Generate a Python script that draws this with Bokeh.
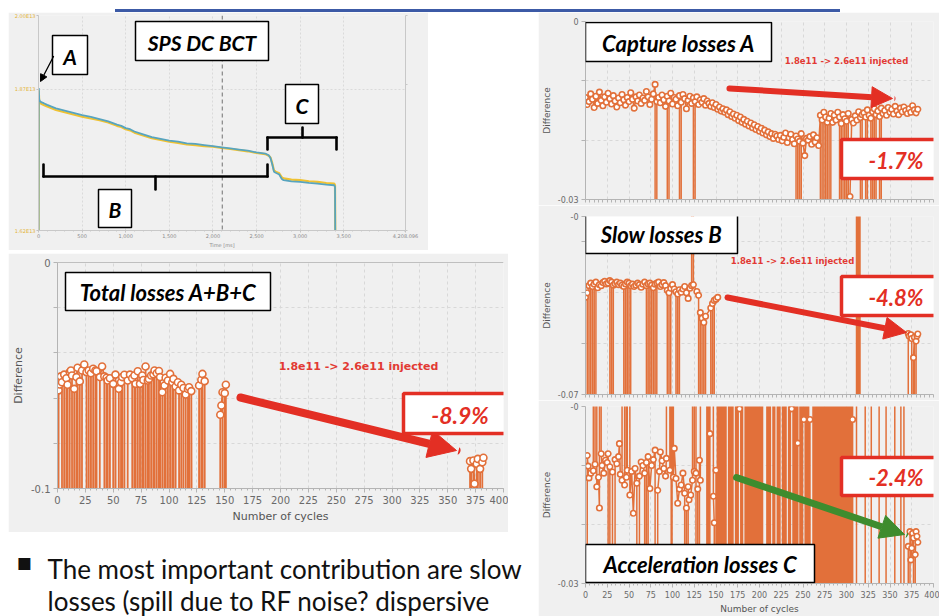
import math
import numpy as np
from bokeh.plotting import figure
from bokeh.layouts import row, column
from bokeh.models import (Spacer, Div, Label, Arrow, NormalHead, FixedTicker, CustomJSTickFormatter,
                          Span, LinearAxis, Range1d, BoxAnnotation)
from bokeh.embed import file_html
from bokeh.resources import INLINE

# ---------------- data ----------------
# SPS DC BCT (time in ms, intensity in protons)
bct_time = [0, 3, 8, 15, 30, 60, 100, 150, 200, 300, 400, 500, 600, 700, 800, 900, 950, 1000, 1050, 1100,
            1200, 1300, 1400, 1500, 1600, 1700, 1800, 1900, 2000, 2100, 2200, 2300, 2400, 2500, 2600, 2640,
            2660, 2680, 2700, 2720, 2760, 2790, 2810, 2900, 3000, 3100, 3200, 3300, 3390, 3400, 3405]
bct_blue = [1.55e13, 1.872e13, 1.852e13, 1.849e13, 1.847e13, 1.845e13, 1.842e13, 1.839e13, 1.836e13, 1.832e13,
            1.828e13, 1.824e13, 1.821e13, 1.817e13, 1.813e13, 1.807e13, 1.805e13, 1.801e13, 1.799e13, 1.795e13,
            1.790e13, 1.785e13, 1.782e13, 1.779e13, 1.777e13, 1.774e13, 1.773e13, 1.771e13, 1.769e13, 1.767e13,
            1.765e13, 1.763e13, 1.761e13, 1.758e13, 1.756e13, 1.753e13, 1.748e13, 1.737e13, 1.724e13, 1.722e13,
            1.719e13, 1.711e13, 1.709e13, 1.707e13, 1.706e13, 1.704e13, 1.703e13, 1.701e13, 1.700e13, 1.697e13, 1.55e13]
bct_yellow = [1.55e13, 1.868e13, 1.849e13, 1.846e13, 1.844e13, 1.842e13, 1.839e13, 1.836e13, 1.833e13, 1.829e13,
              1.825e13, 1.821e13, 1.818e13, 1.815e13, 1.811e13, 1.805e13, 1.803e13, 1.799e13, 1.797e13, 1.793e13,
              1.788e13, 1.783e13, 1.780e13, 1.777e13, 1.775e13, 1.772e13, 1.771e13, 1.769e13, 1.768e13, 1.766e13,
              1.764e13, 1.762e13, 1.760e13, 1.757e13, 1.755e13, 1.752e13, 1.749e13, 1.739e13, 1.726e13, 1.724e13,
              1.721e13, 1.714e13, 1.712e13, 1.710e13, 1.709e13, 1.707e13, 1.706e13, 1.704e13, 1.703e13, 1.700e13, 1.55e13]
bct_time_ticks = [0, 500, 1000, 1500, 2000, 2500, 3000, 3500, 4208.096]
bct_int_ticks = [1.62e13, 1.87e13, 2.00e13]
bct_mom_values = [225, 213, 187.357]
bct_mom_ticks = ["225", "213", "187.357"]

OFF_LOW, OFF_HIGH = -1.0, 1.0   # off-scale readings (drawn as spikes)

# Total losses A+B+C
total_cycles = [1, 2, 3, 4, 6, 8, 9, 11, 12, 13, 15, 17, 18, 20, 22, 24, 26, 28, 30, 32, 34, 35, 38, 40, 42, 44,
                45, 47, 50, 52, 55, 57, 58, 60, 63, 65, 67, 69, 70, 72, 74, 76, 77, 79, 81, 82, 84, 86, 87, 89,
                91, 92, 94, 96, 97, 99, 101, 103, 104, 106, 108, 109, 111, 113, 115, 117, 118, 120, 127, 129,
                130, 132, 146, 147, 148, 150, 151, 370, 371, 373, 374, 376, 377, 379, 381, 382]
total_diff = [-0.0566, -0.0540, -0.0504, -0.0530, -0.0496, -0.0512, -0.0541, -0.0485, -0.0478, -0.0500,
              -0.0559, -0.0507, -0.0466, -0.0526, -0.0478, -0.0451, -0.0485, -0.0478, -0.0490, -0.0470,
              -0.0478, -0.0481, -0.0507, -0.0460, -0.0504, -0.0510, -0.0522, -0.0512, -0.0537, -0.0496,
              -0.0559, -0.0530, -0.0507, -0.0497, -0.0522, -0.0496, -0.0512, -0.0500, -0.0537, -0.0481,
              -0.0537, -0.0500, -0.0520, -0.0460, -0.0522, -0.0515, -0.0500, -0.0495, -0.0478, -0.0490,
              -0.0480, -0.0507, -0.0574, -0.0544, -0.0510, -0.0522, -0.0493, -0.0530, -0.0515, -0.0549,
              -0.0530, -0.0566, -0.0541, -0.0555, -0.0584, -0.0560, -0.0552, -0.0569, -0.0544, -0.0519,
              -0.0493, -0.0525, -0.0674, -0.0633, -0.0574, -0.0578, -0.0541, -0.0879, -0.0913, -0.0876,
              -0.0979, -0.0891, -0.0869, -0.0913, -0.0884, -0.0864]
total_low = [0, 5, 7, 10, 14, 16, 19, 21, 27, 29, 31, 33, 36, 43, 46, 48, 49, 51, 54, 56, 59, 61, 62, 68, 71,
             73, 75, 78, 80, 83, 85, 88, 90, 93, 95, 98, 100, 102, 105, 110, 112, 116, 119, 126, 128, 131, 133,
             145, 149, 152, 369, 372, 375, 378, 380]

# Capture losses A (one reading every 2 cycles)
cap_cycles = list(range(0, 383, 2))
cap_diff = [-0.0128, -0.0140, -0.0135, -0.0122, -0.0131, -0.0145, -0.0126, -0.0138, -0.0119, -0.0133, -0.0142, -0.0127, -0.0136, -0.0121, -0.0130, -0.0139,
            -0.0125, -0.0134, -0.0144, -0.0129, -0.0137, -0.0123, -0.0132, -0.0141, -0.0128, -0.0135, -0.0120, -0.0131, -0.0146, -0.0127, -0.0134, -0.0124,
            -0.0138, -0.0129, -0.0133, -0.0118, -0.0127, -0.0140, -0.0131, -0.0122, -0.0106, -0.0135, -0.0128, -0.0137, -0.0124, -0.0132, -0.0143, -0.0126,
            -0.0134, -0.0121, -0.0139, -0.0128, -0.0131, -0.0142, -0.0125, -0.0136, -0.0123, -0.0130, -0.0147, -0.0133, -0.0126, -0.0138, -0.0129, -0.0135,
            -0.0127, -0.0140, -0.0132, -0.0136, -0.0130, -0.0141, -0.0134, -0.0138, -0.0143, -0.0137, -0.0145, -0.0140, -0.0148, -0.0144, -0.0151, -0.0147,
            -0.0153, -0.0149, -0.0157, -0.0152, -0.0160, -0.0156, -0.0163, -0.0158, -0.0167, -0.0161, -0.0170, -0.0165, -0.0173, -0.0168, -0.0176, -0.0171,
            -0.0179, -0.0174, -0.0182, -0.0177, -0.0185, -0.0180, -0.0188, -0.0183, -0.0191, -0.0186, -0.0194, -0.0189, -0.0197, -0.0190, -0.0193, -0.0199,
            -0.0192, -0.0201, -0.0195, -0.0188, -0.0204, -0.0196, -0.0190, -0.0199, -0.0206, -0.0193, -0.0198, -0.0202, -0.0189, -0.0205, -0.0226, -0.0197,
            -0.0200, -0.0194, -0.0207, -0.0191, -0.0203, -0.0196, -0.0209, -0.0158, -0.0166, -0.0153, -0.0161, -0.0170, -0.0163, -0.0155, -0.0170, -0.0158,
            -0.0166, -0.0153, -0.0161, -0.0172, -0.0157, -0.0164, -0.0168, -0.0155, -0.0295, -0.0165, -0.0171, -0.0159, -0.0166, -0.0152, -0.0162, -0.0157,
            -0.0154, -0.0161, -0.0149, -0.0158, -0.0163, -0.0152, -0.0147, -0.0157, -0.0151, -0.0160, -0.0146, -0.0155, -0.0150, -0.0158, -0.0145, -0.0153,
            -0.0148, -0.0156, -0.0143, -0.0151, -0.0157, -0.0146, -0.0152, -0.0144, -0.0150, -0.0155, -0.0147, -0.0153, -0.0142, -0.0149, -0.0154, -0.0148]
cap_low = [81, 95, 109, 125, 243, 247, 271, 275, 277, 281, 293, 297, 299, 303, 317, 323, 329, 333, 339]

# Slow losses B
slow_cycles = list(range(0, 125, 2)) + [128, 130, 132, 134, 136, 138, 144, 146, 148, 150, 152,
                                        371, 372, 374, 375, 377, 378, 380, 381, 382]
slow_diff = [-0.0318, -0.0300, -0.0272, -0.0262, -0.0275, -0.0266, -0.0258, -0.0280, -0.0268, -0.0272,
             -0.0260, -0.0255, -0.0265, -0.0262, -0.0252, -0.0258, -0.0270, -0.0264, -0.0258, -0.0268,
             -0.0262, -0.0270, -0.0275, -0.0265, -0.0258, -0.0262, -0.0272, -0.0266, -0.0275, -0.0270,
             -0.0262, -0.0268, -0.0278, -0.0266, -0.0258, -0.0272, -0.0265, -0.0262, -0.0270, -0.0280,
             -0.0266, -0.0262, -0.0258, -0.0275, -0.0268, -0.0260, -0.0272, -0.0290, -0.0300, -0.0282,
             -0.0268, -0.0285, -0.0296, -0.0305, -0.0288, -0.0298, -0.0285, -0.0275, -0.0300, -0.0322,
             -0.0282, -0.0272, -0.0268,
             -0.0295, -0.0310, -0.0378, -0.0400, -0.0417, -0.0392, -0.0360, -0.0342, -0.0330, -0.0325, -0.0318,
             -0.0460, -0.0470, -0.0465, -0.0480, -0.0555, -0.0475, -0.0490, -0.0470, -0.0462]
slow_low = [3, 5, 9, 11, 29, 31, 45, 47, 49, 51, 71, 73, 75, 79, 81, 95, 97, 105, 107, 131, 133, 135, 137,
            145, 147, 312, 314, 316, 370, 376, 379]
slow_high = [123, 311, 313, 315]
slow_gaps = [200]

# Acceleration losses C
acc_cycles = [2, 3, 4, 6, 9, 11, 13, 15, 16, 18, 19, 21, 23, 25, 26, 28, 31, 34, 36, 38, 39, 40, 42, 45, 47,
              48, 51, 53, 55, 57, 59, 62, 64, 66, 68, 70, 72, 74, 76, 78, 80, 83, 85, 86, 88, 90, 92, 93, 97,
              101, 102, 104, 106, 108, 110, 112, 114, 116, 118, 119, 121, 123, 125, 127, 129, 131, 132, 143,
              147, 148, 150, 177, 237, 244, 251, 258, 307,
              371, 373, 374, 375, 376, 377, 379, 380, 381, 382]
acc_diff = [-0.0083, -0.0101, -0.0121, -0.0113, -0.0109, -0.0098, -0.0136, -0.0120, -0.0172, -0.0080,
            -0.0100, -0.0113, -0.0091, -0.0095, -0.0080, -0.0102, -0.0111, -0.0090, -0.0097, -0.0085,
            -0.0063, -0.0115, -0.0125, -0.0133, -0.0120, -0.0108, -0.0150, -0.0110, -0.0181, -0.0105,
            -0.0130, -0.0118, -0.0094, -0.0100, -0.0113, -0.0095, -0.0085, -0.0139, -0.0100, -0.0090,
            -0.0074, -0.0142, -0.0110, -0.0077, -0.0092, -0.0105, -0.0118, -0.0088, -0.0108, -0.0120,
            -0.0071, -0.0122, -0.0164, -0.0140, -0.0133, -0.0113, -0.0147, -0.0172, -0.0136, -0.0158,
            -0.0150, -0.0125, -0.0110, -0.0113, -0.0140, -0.0091, -0.0125, -0.0046, -0.0152, -0.0197,
            -0.0108, -0.0004, -0.0004, -0.0062, -0.0022, -0.0022, -0.0022,
            -0.0237, -0.0212, -0.0260, -0.0240, -0.0215, -0.0223, -0.0251, -0.0212, -0.0220, -0.0230]
acc_high = [10, 12, 17, 44, 46, 50, 95, 98, 100, 124, 126, 139, 141, 144,
            152, 154, 156, 158, 160, 162, 164, 166, 168, 170, 172, 174, 176, 178, 180, 184, 186, 188, 190,
            192, 194, 196, 198, 200, 202, 204, 208, 210, 212, 216, 218, 220, 222, 224, 226, 228, 230, 234,
            236, 238, 240, 242, 246, 248, 250, 252, 254, 256, 262, 264, 266, 268, 270, 272, 274, 276, 278,
            280, 282, 284, 286, 288, 290, 292, 294, 296, 298, 300, 302, 304, 306,
            312, 321, 329, 337, 346, 355, 363]
acc_low = [0, 1, 27, 30, 33, 60, 61, 69, 71, 81, 82, 99, 115, 117, 128, 130, 140, 142, 149,
           151, 153, 155, 157, 159, 161, 165, 167, 169, 173, 175, 179, 181, 183, 185, 187, 189, 191, 193,
           195, 197, 199, 201, 203, 209, 211, 213, 215, 217, 221, 223, 227, 229, 231, 233, 235, 239, 241,
           243, 247, 249, 253, 255, 257, 259, 261, 263, 265, 267, 269, 271, 273, 275, 277, 279, 281, 283,
           285, 287, 289, 291, 293, 295, 297, 299, 301, 303, 305,
           311, 322, 328, 338, 345, 356, 362, 369, 372, 378]

cycle_ticks = [0, 25, 50, 75, 100, 125, 150, 175, 200, 225, 250, 275, 300, 325, 350, 375, 400]
cycle_minor = list(range(0, 401, 5))
injected_text = "1.8e11 -> 2.6e11 injected"

# ---------------- styles ----------------
PANEL = "#f0f0f0"
ORANGE = "#e2703a"
RED = "#e32f24"
GREEN = "#3e8c2e"
AX = "#b4b4b4"
LAB = "#6a6a6a"
TITLE_FONT = "Lato"


def merge(cyc, val, low=(), high=(), gaps=()):
    pts = list(zip(cyc, val)) + [(c, OFF_LOW) for c in low] + [(c, OFF_HIGH) for c in high] \
        + [(c, float("nan")) for c in gaps]
    pts.sort(key=lambda t: t[0])
    return np.array([p[0] for p in pts], dtype=float), np.array([p[1] for p in pts], dtype=float)


def box(p, fr, x0, x1, y0, y1, color="black", width=1.5):
    fl, fb = fr
    p.add_layout(BoxAnnotation(left=x0 - fl, right=x1 - fl, top=fb - y0, bottom=fb - y1,
                               left_units="screen", right_units="screen", top_units="screen",
                               bottom_units="screen", fill_color="white", fill_alpha=1.0,
                               line_color=color, line_alpha=1.0, line_width=width))


def label(p, fr, x, y, text, size, color="black", font=TITLE_FONT, style="bold italic",
          align="center", baseline="middle", angle=0.0):
    fl, fb = fr
    p.add_layout(Label(x=x - fl, y=fb - y, x_units="screen", y_units="screen", text=text,
                       text_font=font, text_font_size=size, text_font_style=style, text_color=color,
                       text_align=align, text_baseline=baseline, angle=angle))


def boxed(p, fr, x0, x1, y0, y1, text, size, color="black", bcolor="black", bw=1.5):
    box(p, fr, x0, x1, y0, y1, bcolor, bw)
    label(p, fr, (x0 + x1) / 2, (y0 + y1) / 2 + 1, text, size, color)


def arrow(p, fr, x0, y0, x1, y1, color, width, head):
    fl, fb = fr
    end = NormalHead(size=head, fill_color=color, line_color=color, line_width=1) if head else None
    p.add_layout(Arrow(end=end, x_start=x0 - fl, y_start=fb - y0, x_end=x1 - fl, y_end=fb - y1,
                       start_units="screen", end_units="screen", line_color=color, line_width=width,
                       line_cap="round"))


def ytick_formatter(top, bot, lo):
    return CustomJSTickFormatter(args=dict(top=top, bot=bot, lo=lo), code="""
        if (Math.abs(tick) < 1e-9) return top;
        if (Math.abs(tick - lo) < 1e-9) return bot;
        return "";
    """)


def diff_fig(w, h, borders, y_lo, yticks, top_lab, bot_lab, xlabels, fs_tick, fs_lab, xtitle):
    l, r, t, b = borders
    p = figure(width=w, height=h, x_range=Range1d(0, 400), y_range=Range1d(y_lo, 0),
               output_backend="svg", toolbar_location=None,
               min_border_left=l, min_border_right=r, min_border_top=t, min_border_bottom=b)
    p.background_fill_color = PANEL
    p.border_fill_color = PANEL
    p.outline_line_color = None
    xa = p.xaxis[0]
    if xlabels:
        xa.ticker = FixedTicker(ticks=cycle_ticks, minor_ticks=cycle_minor)
    else:
        xa.ticker = FixedTicker(ticks=[], minor_ticks=cycle_minor)
    ya = p.yaxis[0]
    inner = [v for v in yticks if v not in (0.0, y_lo)]
    ya.ticker = FixedTicker(ticks=[y_lo, 0.0], minor_ticks=inner)
    ya.formatter = ytick_formatter(top_lab, bot_lab, y_lo)
    for ax in (xa, ya):
        ax.axis_line_color = AX
        ax.major_tick_line_color = AX
        ax.minor_tick_line_color = AX
        ax.major_tick_out = 4
        ax.major_tick_in = 0
        ax.minor_tick_out = 2
        ax.minor_tick_in = 0
        ax.major_label_text_color = LAB
        ax.major_label_text_font = "DejaVu Sans"
        ax.major_label_text_font_size = fs_tick
        ax.major_label_standoff = 3
        ax.axis_label_text_color = "#555555"
        ax.axis_label_text_font = "DejaVu Sans"
        ax.axis_label_text_font_style = "normal"
        ax.axis_label_text_font_size = fs_lab
        ax.axis_label_standoff = 3
    ya.minor_tick_out = 4
    ya.axis_label = "Difference"
    if xlabels:
        xa.axis_label = xtitle
    else:
        xa.minor_tick_out = 3
        xa.major_label_standoff = 0
    p.xgrid.ticker = FixedTicker(ticks=cycle_ticks)
    p.ygrid.ticker = FixedTicker(ticks=yticks)
    p.grid.grid_line_color = "#d8d8d8"
    p.grid.grid_line_dash = "3 3"
    return p


def draw_series(p, cyc, val, low=(), high=(), gaps=(), size=6, lw=1.6):
    xs, ys = merge(cyc, val, low, high, gaps)
    p.line(xs, ys, line_color=ORANGE, line_width=lw)
    p.scatter(cyc, val, marker="circle", size=size, fill_color="white", line_color=ORANGE, line_width=1.6)


# ---------------- SPS DC BCT ----------------
p_bct = figure(width=420, height=238, x_range=Range1d(0, 4208.096), y_range=Range1d(1.62e13, 2.00e13),
               output_backend="svg", toolbar_location=None,
               min_border_left=30, min_border_right=23, min_border_top=3, min_border_bottom=17)
p_bct.background_fill_color = PANEL
p_bct.border_fill_color = PANEL
p_bct.outline_line_color = None
p_bct.extra_y_ranges = {"mom": Range1d(187.357, 225)}
bx = p_bct.xaxis[0]
bx.ticker = FixedTicker(ticks=bct_time_ticks, minor_ticks=list(range(0, 4201, 100)))
bx.formatter = CustomJSTickFormatter(code="""
    if (Math.abs(tick - 4208.096) < 1e-6) return "4,208.096";
    return tick.toLocaleString("en-US");
""")
bx.axis_label = "Time [ms]"
by = p_bct.yaxis[0]
by.ticker = FixedTicker(ticks=bct_int_ticks, minor_ticks=[])
by.formatter = CustomJSTickFormatter(code='return (tick / 1e13).toFixed(2) + "E13";')
rax = LinearAxis(y_range_name="mom", ticker=FixedTicker(ticks=[], minor_ticks=bct_mom_values))
rax.major_label_standoff = 0
p_bct.add_layout(rax, "right")
for ax, col in ((bx, "#8a8a8a"), (by, "#e3b43a"), (rax, "#e38a5a")):
    ax.axis_line_color = "#c8c8c8"
    ax.major_tick_line_color = "#c0c0c0"
    ax.minor_tick_line_color = "#c8c8c8"
    ax.major_tick_out = 2
    ax.major_tick_in = 0
    ax.minor_tick_out = 1
    ax.minor_tick_in = 0
    ax.major_label_text_color = col
    ax.axis_label_text_color = col
    ax.axis_label_text_font_style = "normal"
    ax.axis_label_text_font = "DejaVu Sans"
    ax.major_label_text_font = "DejaVu Sans"
    ax.axis_label_text_font_size = "5px"
    ax.major_label_text_font_size = "5px"
    ax.axis_label_standoff = 1
rax.minor_tick_out = 2
bx.major_label_standoff = 1
by.major_label_standoff = 1
p_bct.grid.grid_line_color = "#dadada"
p_bct.grid.grid_line_dash = "2 2"
p_bct.line(bct_time, bct_yellow, line_color="#f0c232", line_width=2.2)
p_bct.line(bct_time, bct_blue, line_color="#57a4bf", line_width=1.8)
p_bct.add_layout(Span(location=2107, dimension="height", line_color="#707070", line_dash="4 3", line_width=1))
FB = (38, 233)
for txt, py in zip(bct_mom_ticks, [18, 87, 230]):
    label(p_bct, FB, 408, py, txt, "5px", "#e38a5a", "DejaVu Sans", "normal", "left", "middle")
label(p_bct, FB, 423, 124, "Momentum [GeV]", "5px", "#e38a5a", "DejaVu Sans", "normal", "center", "middle",
      -math.pi / 2)
label(p_bct, FB, 13, 124, "DCT intensity", "5px", "#e3b43a", "DejaVu Sans", "normal", "center", "middle",
      math.pi / 2)
boxed(p_bct, FB, 135, 268, 24, 63, "SPS DC BCT", "21px")
boxed(p_bct, FB, 52, 87, 38, 77, "A", "21px")
boxed(p_bct, FB, 285, 318, 87, 126, "C", "21px")
boxed(p_bct, FB, 98, 131, 192, 230, "B", "21px")
arrow(p_bct, FB, 53, 59, 40, 84, "black", 1.3, 7)
for seg in [(267, 152, 267, 140), (267, 140, 336, 140), (336, 140, 336, 152), (302, 140, 302, 130),
            (43, 167, 43, 179), (43, 179, 267, 179), (267, 179, 267, 167), (155, 179, 155, 192)]:
    arrow(p_bct, FB, seg[0], seg[1], seg[2], seg[3], "black", 2.6, 0)

# ---------------- Total losses ----------------
p_total = diff_fig(500, 279, (46, 5, 9, 44), -0.1, [-0.1, -0.08, -0.06, -0.04, -0.02, 0.0], "0", "-0.1",
                   True, "10px", "11px", "Number of cycles")
p_total.add_layout(Span(location=0, dimension="width", line_color="#8c8c8c", line_width=1.2))
draw_series(p_total, total_cycles, total_diff, low=total_low, size=7, lw=1.8)
FT = (54, 488)
boxed(p_total, FT, 62, 267, 272, 310, "Total losses A+B+C", "22px")
label(p_total, FT, 355, 366, injected_text, "11px", "#e23a34", "DejaVu Sans", "bold")
arrow(p_total, FT, 237, 397, 453, 450, RED, 8, 28)
boxed(p_total, FT, 400, 513, 393, 433, "-8.9%", "23px", RED, RED, 3.5)

# ---------------- Capture losses A ----------------
p_cap = diff_fig(401, 193, (43, 6, 9, 6), -0.03, [-0.03, -0.02, -0.01, 0.0], "0", "-0.03",
                 False, "8px", "9px", "")
draw_series(p_cap, cap_cycles, cap_diff, low=cap_low, size=5.5, lw=1.5)
FC = (581, 199)
boxed(p_cap, FC, 581, 767, 22, 61, "Capture losses A", "22px")
label(p_cap, FC, 842, 60, injected_text, "8.5px", "#e23a34", "DejaVu Sans", "bold")
arrow(p_cap, FC, 725, 88, 888, 98, RED, 6, 21)
boxed(p_cap, FC, 837, 946, 139, 178, "-1.7%", "22px", RED, RED, 3.5)

# ---------------- Slow losses B ----------------
p_slow = diff_fig(401, 195, (43, 6, 11, 6), -0.07, [-0.07, -0.05, -0.03, -0.01, 0.0], "-0", "-0.07",
                  False, "8px", "9px", "")
draw_series(p_slow, slow_cycles, slow_diff, low=slow_low, high=slow_high, gaps=slow_gaps, size=5.5, lw=1.5)
FS = (581, 394)
boxed(p_slow, FS, 581, 733, 213, 253, "Slow losses B", "22px")
label(p_slow, FS, 788, 260, injected_text, "8.5px", "#e23a34", "DejaVu Sans", "bold")
arrow(p_slow, FS, 723, 297, 902, 332, RED, 6, 22)
boxed(p_slow, FS, 837, 946, 276, 315, "-4.8%", "22px", RED, RED, 3.5)

# ---------------- Acceleration losses C ----------------
p_acc = diff_fig(401, 216, (43, 6, 6, 32), -0.03, [-0.03, -0.02, -0.01, 0.0], "-0", "-0.03",
                 True, "8px", "9px", "Number of cycles")
draw_series(p_acc, acc_cycles, acc_diff, low=acc_low, high=acc_high, size=5.5, lw=1.5)
FA = (581, 584)
arrow(p_acc, FA, 732, 478, 900, 535, GREEN, 7, 24)
boxed(p_acc, FA, 837, 946, 458, 496, "-2.4%", "22px", RED, RED, 3.5)
boxed(p_acc, FA, 581, 810, 545, 583, "Acceleration losses C", "22px")

# ---------------- bullet text ----------------
p_text = figure(width=530, height=84, x_range=Range1d(0, 1), y_range=Range1d(0, 1), output_backend="svg",
                toolbar_location=None, min_border=0, x_axis_location=None, y_axis_location=None)
p_text.grid.visible = False
p_text.outline_line_color = None
p_text.background_fill_color = "white"
p_text.border_fill_color = "white"
FX = (0, 616)
label(p_text, FX, 24, 561, "\u25aa", "24px", "#111111", "DejaVu Sans", "normal")
label(p_text, FX, 47, 568, "The most important contribution are slow", "26px", "#111111", "Lato", "normal",
      "left", "alphabetic")
label(p_text, FX, 47, 600, "losses (spill due to RF noise? dispersive", "26px", "#111111", "Lato", "normal",
      "left", "alphabetic")

# ---------------- layout ----------------
topbar = Div(text='<div style="margin-left:115px;width:725px;height:3px;background:#3c5aa6"></div>',
             width=939, height=4, margin=0)
left = column(
    Spacer(width=530, height=8),
    row(Spacer(width=8, height=238), p_bct, Spacer(width=102, height=238)),
    Spacer(width=530, height=3),
    row(Spacer(width=8, height=279), p_total, Spacer(width=22, height=279)),
    p_text,
)
right = column(
    Spacer(width=409, height=8),
    row(Spacer(width=8, height=193), p_cap),
    row(Spacer(width=8, height=195), p_slow),
    row(Spacer(width=8, height=216), p_acc),
)
layout = column(topbar, row(left, right))

open("out.html", "w").write(file_html(layout, INLINE))
